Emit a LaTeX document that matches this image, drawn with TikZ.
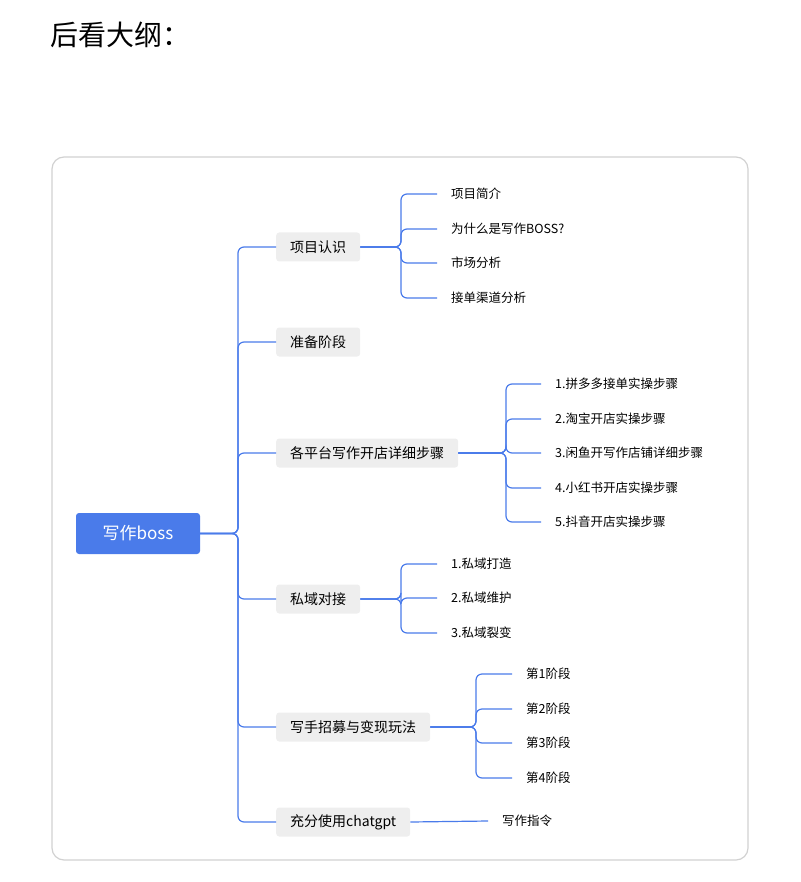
\documentclass[tikz,border=0pt]{standalone}
\usepackage{fontspec}
\setmainfont{Noto Sans CJK SC}
\usetikzlibrary{calc}
\definecolor{ln}{HTML}{4A7BEA}
\definecolor{rootc}{HTML}{4A7BEA}
\definecolor{l1c}{HTML}{EEEEEE}
\begin{document}
\begin{tikzpicture}[x=1pt,y=-1pt,
  l1/.style={fill=l1c,rounded corners=3pt,anchor=west,minimum height=29pt,inner xsep=14pt,font=\fontsize{14}{16}\selectfont},
  l2/.style={anchor=west,inner sep=0pt,font=\fontsize{12.5}{14}\selectfont},
  con/.style={ln,line width=1.2pt,rounded corners=6pt}]
\useasboundingbox (0,0) rectangle (800,882);
\node[anchor=west,inner sep=0pt,font=\fontsize{28}{30}\selectfont] (title) at (50,35) {后看大纲：};
\draw[black!18,line width=1.2pt,rounded corners=12pt] (52,157) rectangle (748,860);
\node[fill=rootc,text=white,rounded corners=3pt,minimum width=124pt,minimum height=41pt,font=\fontsize{17}{19}\selectfont] (root) at (138,533.5) {写作boss};
\node[l1] (a) at (276,247) {项目认识};
\node[l1] (b) at (276,342) {准备阶段};
\node[l1] (c) at (276,453) {各平台写作开店详细步骤};
\node[l1] (d) at (276,599) {私域对接};
\node[l1] (e) at (276,727) {写手招募与变现玩法};
\node[l1] (f) at (276,822) {充分使用chatgpt};
\foreach \n in {a,b,c,d,e,f} \draw[con] (root.east) -| (238,0 |- \n.west) -- (\n.west);
\node[l2] (a1) at (451,194) {项目简介};
\node[l2] (a2) at (451,229) {为什么是写作BOSS?};
\node[l2] (a3) at (451,263) {市场分析};
\node[l2] (a4) at (451,298) {接单渠道分析};
\foreach \n in {a1,a2,a3,a4} \draw[con] (a.east) -| (401,0 |- \n.west) -- ($(\n.west)+(-14,0)$);
\node[l2] (c1) at (555,384) {1.拼多多接单实操步骤};
\node[l2] (c2) at (555,419) {2.淘宝开店实操步骤};
\node[l2] (c3) at (555,453) {3.闲鱼开写作店铺详细步骤};
\node[l2] (c4) at (555,488) {4.小红书开店实操步骤};
\node[l2] (c5) at (555,522) {5.抖音开店实操步骤};
\foreach \n in {c1,c2,c3,c4,c5} \draw[con] (c.east) -| (506,0 |- \n.west) -- ($(\n.west)+(-14,0)$);
\node[l2] (d1) at (451,564) {1.私域打造};
\node[l2] (d2) at (451,598) {2.私域维护};
\node[l2] (d3) at (451,633) {3.私域裂变};
\foreach \n in {d1,d2,d3} \draw[con] (d.east) -| (401,0 |- \n.west) -- ($(\n.west)+(-14,0)$);
\node[l2] (e1) at (526,674) {第1阶段};
\node[l2] (e2) at (526,709) {第2阶段};
\node[l2] (e3) at (526,743) {第3阶段};
\node[l2] (e4) at (526,778) {第4阶段};
\foreach \n in {e1,e2,e3,e4} \draw[con] (e.east) -| (476,0 |- \n.west) -- ($(\n.west)+(-14,0)$);
\node[l2] (f1) at (502,821) {写作指令};
\draw[con] (f.east) -- ($(f1.west)+(-14,0)$);
\end{tikzpicture}
\end{document}
